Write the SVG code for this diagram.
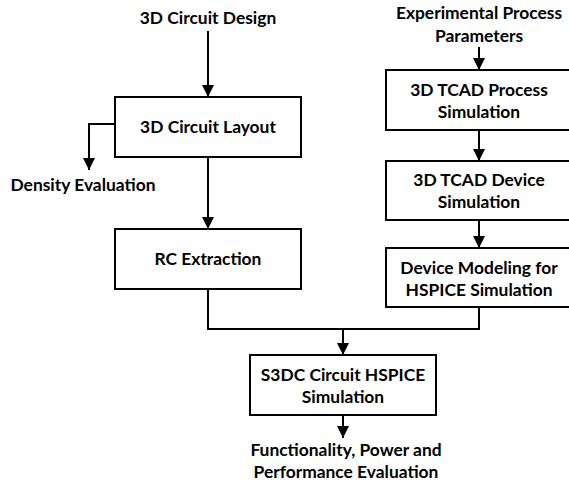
<svg xmlns="http://www.w3.org/2000/svg" width="569" height="483" viewBox="0 0 569 483">
  <style>
    .box { fill: #ffffff; stroke: #000000; stroke-width: 2; }
    .wire { fill: none; stroke: #000000; stroke-width: 2; }
    text { font-family: Lato, "Open Sans", "Liberation Sans", sans-serif; font-weight: bold; font-size: 17.4px; fill: #000000; text-anchor: middle; }
  </style>
  <defs>
    <marker id="arrow" markerUnits="userSpaceOnUse" markerWidth="12" markerHeight="12" viewBox="0 0 12 12" refX="12" refY="6" orient="auto">
      <path d="M0,0 L12,6 L0,12 Z" fill="#000000"/>
    </marker>
  </defs>
  <rect width="569" height="483" fill="#ffffff"/>

  <!-- connectors -->
  <g id="connectors">
    <path class="wire" d="M208,31 V97" marker-end="url(#arrow)"/>
    <path class="wire" d="M115,124 H89 V170" marker-end="url(#arrow)"/>
    <path class="wire" d="M208,157 V229" marker-end="url(#arrow)"/>
    <path class="wire" d="M479,47 V70" marker-end="url(#arrow)"/>
    <path class="wire" d="M479,130 V161" marker-end="url(#arrow)"/>
    <path class="wire" d="M479,220 V248" marker-end="url(#arrow)"/>
    <path class="wire" d="M208,289 V329 H479 V307"/>
    <path class="wire" d="M343,329 V355" marker-end="url(#arrow)"/>
    <path class="wire" d="M343,415 V438" marker-end="url(#arrow)"/>
  </g>

  <!-- free labels -->
  <g id="circuit-design"><text x="208" y="24">3D Circuit Design</text></g>
  <g id="density-evaluation"><text x="83" y="191">Density Evaluation</text></g>
  <g id="process-parameters">
    <text x="479" y="19">Experimental Process</text>
    <text x="479" y="42">Parameters</text>
  </g>
  <g id="evaluation">
    <text x="346" y="456">Functionality, Power and</text>
    <text x="346" y="478">Performance Evaluation</text>
  </g>

  <!-- process boxes -->
  <g id="circuit-layout">
    <rect class="box" x="115" y="97" width="186" height="60"/>
    <text x="208" y="133">3D Circuit Layout</text>
  </g>
  <g id="rc-extraction">
    <rect class="box" x="115" y="229" width="186" height="60"/>
    <text x="208" y="265">RC Extraction</text>
  </g>
  <g id="tcad-process">
    <rect class="box" x="386" y="70" width="188" height="60"/>
    <text x="479" y="96">3D TCAD Process</text>
    <text x="479" y="118">Simulation</text>
  </g>
  <g id="tcad-device">
    <rect class="box" x="386" y="161" width="188" height="59"/>
    <text x="479" y="186">3D TCAD Device</text>
    <text x="479" y="208">Simulation</text>
  </g>
  <g id="device-modeling">
    <rect class="box" x="386" y="248" width="188" height="59"/>
    <text x="479" y="274">Device Modeling for</text>
    <text x="479" y="296">HSPICE Simulation</text>
  </g>
  <g id="hspice-simulation">
    <rect class="box" x="250" y="355" width="186" height="60"/>
    <text x="343" y="381">S3DC Circuit HSPICE</text>
    <text x="343" y="403">Simulation</text>
  </g>
</svg>
